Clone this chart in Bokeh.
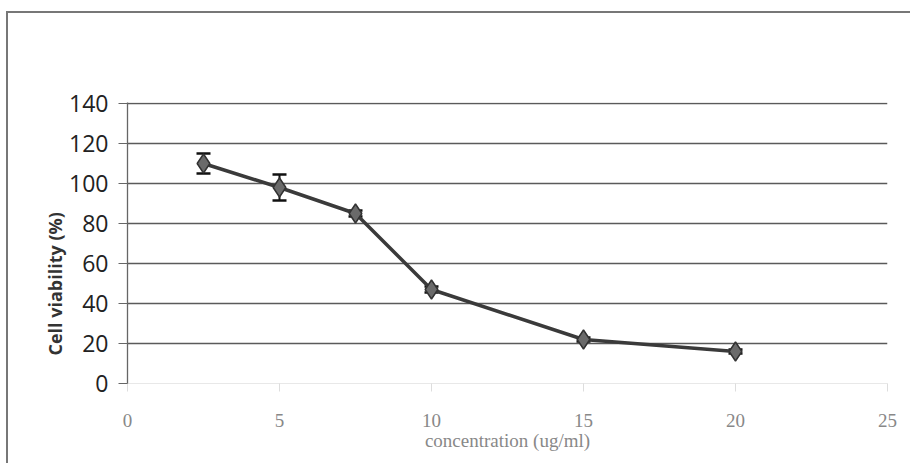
import numpy as np
from bokeh.plotting import figure
from bokeh.models import ColumnDataSource, Whisker, TeeHead, Range1d, Title, FixedTicker
from bokeh.embed import file_html
from bokeh.resources import INLINE

# Data
concentration = [2.5, 5, 7.5, 10, 15, 20]
viability = [110, 98, 85, 47, 22, 16]
viability_err = [5, 6.5, 1.5, 1.5, 1, 1]
x_ticks = [0, 5, 10, 15, 20, 25]
y_ticks = [0, 20, 40, 60, 80, 100, 120, 140]
grid_ticks = [20, 40, 60, 80, 100, 120, 140]

W, H = 904, 452
p = figure(width=W, height=H, output_backend="svg", toolbar_location=None,
           x_range=Range1d(0, 25), y_range=Range1d(0, 140.5),
           min_border_left=119, min_border_right=25, min_border_top=89, min_border_bottom=82)
p.styles = {"margin-left": "6px", "margin-top": "11px",
            "border-left": "2px solid #777", "border-top": "2px solid #777"}
p.outline_line_color = None
p.background_fill_color = "white"
p.border_fill_color = "white"

# grid
p.xgrid.grid_line_color = None
p.ygrid.ticker = FixedTicker(ticks=grid_ticks)
p.ygrid.grid_line_color = "#5a5a5a"
p.ygrid.grid_line_width = 1.3
p.yaxis.ticker = FixedTicker(ticks=y_ticks)
p.xaxis.ticker = FixedTicker(ticks=x_ticks)

# y axis
p.yaxis.axis_line_color = "#666"
p.yaxis.axis_line_width = 1.3
p.yaxis.major_tick_line_color = "#666"
p.yaxis.major_tick_out = 9
p.yaxis.major_tick_in = 0
p.yaxis.minor_tick_line_color = None
p.yaxis.major_label_text_font = "Open Sans"
p.yaxis.major_label_text_font_size = "23px"
p.yaxis.major_label_text_color = "#222"
p.yaxis.major_label_standoff = 10

# x axis (faded in the scan)
p.xaxis.axis_line_color = "#e8e8e8"
p.xaxis.major_tick_line_color = "#dddddd"
p.xaxis.major_tick_out = 8
p.xaxis.major_tick_in = 0
p.xaxis.minor_tick_line_color = None
p.xaxis.major_label_text_font = "Liberation Serif"
p.xaxis.major_label_text_font_size = "19px"
p.xaxis.major_label_text_color = "#888"
p.xaxis.major_label_standoff = 22
p.xaxis.axis_label = "concentration (ug/ml)"
p.xaxis.axis_label_text_font = "Liberation Serif"
p.xaxis.axis_label_text_font_style = "normal"
p.xaxis.axis_label_text_font_size = "19px"
p.xaxis.axis_label_text_color = "#888"
p.xaxis.axis_label_standoff = 0

src = ColumnDataSource(dict(x=concentration, y=viability,
                            upper=[v + e for v, e in zip(viability, viability_err)],
                            lower=[v - e for v, e in zip(viability, viability_err)]))

p.line("x", "y", source=src, line_color="#3a3a3a", line_width=3.5)
p.add_layout(Whisker(source=src, base="x", upper="upper", lower="lower",
                     line_color="#111", line_width=2,
                     upper_head=TeeHead(size=14, line_color="#111", line_width=2.5),
                     lower_head=TeeHead(size=14, line_color="#111", line_width=2.5)))
p.scatter("x", "y", source=src, marker="diamond", size=19,
          fill_color="#6a6a6a", line_color="#333", line_width=1.5)

# y axis title (placed a little below the frame centre, as in the scan)
ytitle = Title(text="Cell viability (%)", align="left", offset=28, standoff=0,
               text_font="Open Sans", text_font_size="18px", text_font_style="bold",
               text_color="#333")
p.add_layout(ytitle, "left")

open("out.html", "w").write(file_html(p, INLINE))
